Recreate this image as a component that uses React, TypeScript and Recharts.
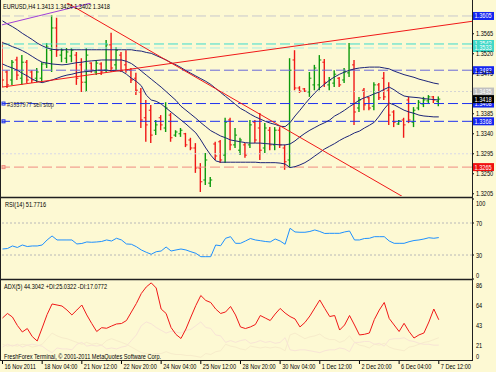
import React from "react";
import { ComposedChart, Bar, Line, XAxis, YAxis, ReferenceLine } from "recharts";

const BG = "#FDF9D3";
const FONT = "'Liberation Sans', Arial, sans-serif";

// EURUSD H4, 16 Nov 20:00 .. 7 Dec 12:00 (89 bars)
const highs = [
  1.3547, 1.3483, 1.3506, 1.3513, 1.3517, 1.3506, 1.3483, 1.3488, 1.3501, 1.3544,
  1.3607, 1.3601, 1.3533, 1.3533, 1.3533, 1.3524, 1.351, 1.3533, 1.3501, 1.3506,
  1.3501, 1.3551, 1.3567, 1.3535, 1.3524, 1.3528, 1.3488, 1.3477, 1.3443, 1.3416,
  1.3405, 1.3371, 1.3382, 1.3411, 1.3387, 1.3348, 1.3353, 1.3342, 1.3331, 1.3319,
  1.3274, 1.3297, 1.3243, 1.3322, 1.3326, 1.3376, 1.3376, 1.3353, 1.3331, 1.3319,
  1.3371, 1.3371, 1.3387, 1.3364, 1.3355, 1.3355, 1.3355, 1.3315, 1.351, 1.3528,
  1.3447, 1.3443, 1.3479, 1.3495, 1.3517, 1.3508, 1.3468, 1.3483, 1.3468, 1.3488,
  1.3544, 1.3506, 1.3423, 1.3443, 1.3423, 1.3456, 1.3454, 1.3479, 1.3456, 1.3393,
  1.3371, 1.3376, 1.3423, 1.34, 1.3416, 1.3423, 1.3427, 1.3425, 1.3424,
];
const lows = [
  1.3445, 1.3443, 1.345, 1.3461, 1.345, 1.3454, 1.3454, 1.3456, 1.3456, 1.3488,
  1.3479, 1.3513, 1.3501, 1.3499, 1.3501, 1.345, 1.3434, 1.3434, 1.3477, 1.3472,
  1.3472, 1.3479, 1.3479, 1.3483, 1.3479, 1.3477, 1.3454, 1.3427, 1.3353, 1.3322,
  1.3319, 1.3337, 1.3348, 1.3344, 1.3322, 1.3333, 1.3333, 1.331, 1.3303, 1.3252,
  1.3209, 1.3225, 1.322, 1.3281, 1.3274, 1.3274, 1.3303, 1.3308, 1.3292, 1.3286,
  1.3308, 1.3319, 1.3281, 1.3297, 1.3303, 1.3303, 1.3308, 1.3259, 1.3263, 1.3438,
  1.3432, 1.3434, 1.3423, 1.3438, 1.3438, 1.3445, 1.3438, 1.3445, 1.3445, 1.3454,
  1.3468, 1.336, 1.3389, 1.3393, 1.3393, 1.3393, 1.3416, 1.3416, 1.336, 1.3355,
  1.336, 1.3331, 1.3364, 1.3355, 1.3393, 1.34, 1.3409, 1.3409, 1.3402,
];
const opens = [
  1.3517, 1.3479, 1.3461, 1.3506, 1.3465, 1.3501, 1.3479, 1.3465, 1.3465, 1.3497,
  1.3528, 1.3578, 1.3517, 1.351, 1.3515, 1.3517, 1.3495, 1.3456, 1.3499, 1.3479,
  1.3497, 1.3483, 1.354, 1.3495, 1.3517, 1.3495, 1.3483, 1.3465, 1.3434, 1.3376,
  1.3393, 1.3348, 1.3376, 1.3353, 1.3382, 1.3337, 1.334, 1.334, 1.3326, 1.3308,
  1.3263, 1.3236, 1.3229, 1.3317, 1.3322, 1.3292, 1.3371, 1.3315, 1.3303, 1.3315,
  1.3315, 1.3366, 1.3353, 1.3308, 1.3348, 1.3315, 1.3348, 1.3308, 1.3281, 1.3506,
  1.3443, 1.3441, 1.3434, 1.345, 1.345, 1.3501, 1.345, 1.3454, 1.3465, 1.3461,
  1.3477, 1.3495, 1.3398, 1.3438, 1.3421, 1.3402, 1.345, 1.3465, 1.3438, 1.3389,
  1.3362, 1.3371, 1.3416, 1.3366, 1.3398, 1.3407, 1.3414, 1.3423, 1.3413,
];
const closes = [
  1.3461, 1.345, 1.3501, 1.3472, 1.3501, 1.3461, 1.3461, 1.3479, 1.3497, 1.3535,
  1.3578, 1.3528, 1.3528, 1.3524, 1.3528, 1.3465, 1.3456, 1.3517, 1.3483, 1.3499,
  1.3479, 1.354, 1.3488, 1.3528, 1.3483, 1.3483, 1.3461, 1.3438, 1.3371, 1.336,
  1.3337, 1.336, 1.336, 1.3398, 1.3331, 1.3344, 1.3348, 1.3315, 1.3308, 1.3263,
  1.3232, 1.3281, 1.3236, 1.329, 1.3281, 1.3366, 1.3315, 1.3337, 1.3326, 1.3292,
  1.336, 1.3326, 1.3303, 1.3353, 1.3315, 1.3348, 1.3315, 1.3277, 1.3483, 1.3443,
  1.3436, 1.3436, 1.3465, 1.3488, 1.3506, 1.3456, 1.3461, 1.3474, 1.345, 1.3479,
  1.3533, 1.3389, 1.3416, 1.3405, 1.3398, 1.345, 1.3421, 1.3423, 1.3382, 1.3366,
  1.3369, 1.336, 1.3371, 1.3393, 1.3411, 1.3416, 1.3423, 1.3416, 1.3418,
];

// Bollinger bands as drawn
const bbUpper = [
  1.3594, 1.3587, 1.3581, 1.3574, 1.3566, 1.3559, 1.3552, 1.3544, 1.3538, 1.3533,
  1.353, 1.3529, 1.3529, 1.3529, 1.3529, 1.3529, 1.3529, 1.3529, 1.3529, 1.3529,
  1.3529, 1.3529, 1.3529, 1.3529, 1.3529, 1.3529, 1.3529, 1.3527, 1.3526, 1.3523,
  1.3521, 1.3516, 1.3511, 1.3506, 1.35, 1.3495, 1.3489, 1.3482, 1.3476, 1.347,
  1.3464, 1.3458, 1.3451, 1.3442, 1.3433, 1.3424, 1.3415, 1.3406, 1.3397, 1.3391,
  1.3384, 1.3378, 1.3373, 1.3368, 1.3364, 1.3361, 1.3357, 1.3356, 1.3365, 1.338,
  1.3393, 1.3407, 1.342, 1.3432, 1.3443, 1.3452, 1.3461, 1.3468, 1.3474, 1.3479,
  1.3483, 1.3486, 1.3488, 1.3489, 1.349, 1.349, 1.349, 1.3488, 1.3486, 1.3481,
  1.3477, 1.3473, 1.347, 1.3467, 1.3463, 1.346, 1.3457, 1.3454, 1.3452,
];
const bbMid = [
  1.3545, 1.3541, 1.3536, 1.3532, 1.3527, 1.3521, 1.3514, 1.3507, 1.3501, 1.3499,
  1.3497, 1.3496, 1.3495, 1.3496, 1.3498, 1.35, 1.3501, 1.3503, 1.3504, 1.3505,
  1.3506, 1.3506, 1.3506, 1.3506, 1.3506, 1.3503, 1.3498, 1.349, 1.3481, 1.3472,
  1.3463, 1.3454, 1.3445, 1.3435, 1.3425, 1.3415, 1.3402, 1.3393, 1.3384, 1.3375,
  1.3365, 1.3356, 1.3347, 1.3341, 1.3335, 1.3331, 1.3326, 1.3324, 1.3322, 1.332,
  1.3319, 1.3319, 1.3319, 1.3318, 1.3317, 1.3316, 1.3315, 1.3315, 1.3317, 1.3324,
  1.3333, 1.3341, 1.3348, 1.3354, 1.336, 1.3365, 1.3371, 1.338, 1.3386, 1.3393,
  1.3401, 1.3408, 1.3416, 1.3421, 1.3425, 1.343, 1.3434, 1.344, 1.3445, 1.3439,
  1.3431, 1.3425, 1.3423, 1.3422, 1.3421, 1.3419, 1.3418, 1.3417, 1.3416,
];
const bbLower = [
  1.3497, 1.3492, 1.3488, 1.3483, 1.3476, 1.347, 1.3463, 1.3458, 1.3455, 1.3458,
  1.3461, 1.3465, 1.3469, 1.3472, 1.3474, 1.3477, 1.3479, 1.348, 1.3481, 1.3483,
  1.3483, 1.3483, 1.3482, 1.3482, 1.3481, 1.3474, 1.3465, 1.3458, 1.3448, 1.3427,
  1.3416, 1.3413, 1.3407, 1.3398, 1.3389, 1.338, 1.3371, 1.3362, 1.3352, 1.3342,
  1.3326, 1.3308, 1.3292, 1.3279, 1.3276, 1.3276, 1.3276, 1.3276, 1.3276, 1.3276,
  1.3276, 1.3276, 1.3275, 1.3275, 1.3275, 1.3275, 1.3274, 1.3272, 1.3264, 1.3266,
  1.327, 1.3275, 1.3282, 1.329, 1.3298, 1.3306, 1.3312, 1.3318, 1.3325, 1.3331,
  1.3336, 1.3342, 1.3346, 1.3353, 1.3359, 1.3366, 1.338, 1.3396, 1.3409, 1.3405,
  1.3399, 1.3393, 1.3389, 1.3386, 1.3382, 1.338, 1.3379, 1.3378, 1.3378,
];

const rsi = [
  37.5, 38.1, 41.3, 39.4, 42.5, 40.6, 41.3, 41.3, 42.5, 48.8,
  53.8, 48.8, 48.8, 48.8, 48.8, 43.8, 44.4, 46.3, 45.9, 46.3,
  46.9, 48.8, 47.5, 50.9, 48.8, 43.8, 43.4, 40.4, 36.3, 33.4,
  30.9, 34.1, 35, 40, 35, 36.3, 37.5, 36.3, 34.1, 32.1,
  27.9, 27.9, 27.9, 42.5, 41.6, 50.9, 52.9, 44.6, 44.6, 47.5,
  50.6, 48.8, 47.9, 46.9, 46.3, 50, 47.5, 43.4, 63.4, 58.8,
  58.4, 58.4, 59.4, 61.3, 59.4, 56.9, 57.1, 57.1, 57.1, 58.8,
  60, 48.8, 48.8, 50.6, 50.9, 52.9, 52.9, 52.9, 47.5, 44.6,
  44.6, 44.6, 46.6, 48.1, 48.8, 50, 51.6, 50.9, 51.7716,
];

const adx = [
  46.2, 51.1, 47.3, 38.2, 31.2, 34.9, 26.3, 21.5, 35.5, 50,
  61.3, 60.2, 59.1, 54.8, 49.5, 54.8, 60.2, 49.5, 40.3, 31.7,
  35.8, 35.2, 37.6, 39.8, 40.3, 43.5, 52.7, 61.8, 72.6, 79.6,
  84, 78.5, 55.9, 51.1, 36, 28.5, 24.2, 34.4, 47.3, 59.7,
  70.4, 65.1, 62.9, 55.9, 51.1, 52.7, 58.6, 49.5, 36.6, 34.9,
  36.6, 39.2, 48.9, 46.2, 43.5, 50.5, 56.5, 51.6, 47.8, 45.2,
  36.6, 41.4, 48.4, 57, 65.6, 56.5, 47.8, 48.9, 33.3, 38.7,
  48.9, 38.7, 28, 28.7, 30.1, 44.6, 54.8, 62.9, 45.7, 38.7,
  31.7, 40.5, 31.7, 24.7, 28, 30.1, 41.9, 55.9, 44.3042,
];
const plusDI = [
  18, 16, 17, 16, 18, 17, 15, 16, 18, 24,
  30, 27, 25, 24, 22, 20, 18, 20, 18, 19,
  17, 22, 24, 22, 20, 18, 15, 12, 9, 8,
  7, 8, 8, 10, 8, 7, 7, 6, 6, 5,
  4, 8, 7, 10, 11, 18, 16, 15, 13, 12,
  16, 15, 14, 15, 14, 15, 14, 11, 28, 30,
  27, 24, 26, 27, 29, 25, 23, 23, 20, 22,
  27, 20, 17, 16, 14, 18, 17, 19, 15, 13,
  12, 11, 15, 16, 18, 20, 21, 23, 25.0322,
];
const minusDI = [
  15, 18, 16, 18, 15, 17, 18, 17, 16, 12,
  9, 14, 13, 13, 12, 18, 20, 16, 17, 16,
  17, 13, 14, 13, 15, 16, 22, 28, 38, 42,
  40, 36, 33, 30, 32, 31, 30, 33, 34, 38,
  42, 36, 35, 28, 27, 20, 22, 20, 22, 23,
  19, 20, 22, 20, 21, 19, 20, 25, 12, 11,
  12, 12, 11, 10, 9, 11, 12, 12, 14, 13,
  10, 20, 20, 21, 21, 18, 19, 16, 23, 24,
  24, 25, 22, 21, 19, 18, 18, 17, 17.0772,
];

const timeTicks = [0, 8, 16, 24, 32, 40, 48, 56, 64, 72, 80, 88];
const timeLabels = [
  "16 Nov 2011", "18 Nov 04:00", "21 Nov 12:00", "22 Nov 20:00", "24 Nov 04:00", "25 Nov 12:00",
  "28 Nov 20:00", "30 Nov 04:00", "1 Dec 12:00", "2 Dec 20:00", "6 Dec 04:00", "7 Dec 12:00",
];
const priceTicks = [1.3205, 1.325, 1.3295, 1.334, 1.3385, 1.3475, 1.352, 1.3565];
const rsiTicks = [0, 30, 70, 100];
const rsiLevels = [30, 70];
const adxTicks = [0, 21, 43, 64, 86];

// horizontal objects / orders on the chart
const levelPrices = [1.3605, 1.3542, 1.3533, 1.3483, 1.3435, 1.3408, 1.3368, 1.3295, 1.3265];
const orderNote = "#3937977 sell stop";
// trend lines: [bar, price] endpoints
const redRise = [[-0.1, 1.3445], [94.7, 1.3593]];
const redFall = [[12, 1.3641], [80.8, 1.3198]];
const violet = [[-0.1, 1.3585], [17.8, 1.3634]];

const X_DOMAIN: [number, number] = [-0.1, 94.7];
const P_DOMAIN: [number, number] = [1.32, 1.36342];

const rows = highs.map((h, i) => ({
  i,
  range: [lows[i], h],
  high: h,
  low: lows[i],
  open: opens[i],
  close: closes[i],
  upper: bbUpper[i],
  mid: bbMid[i],
  lower: bbLower[i],
  rsi: rsi[i],
  adx: adx[i],
  pdi: plusDI[i],
  mdi: minusDI[i],
}));

const levelStyle = [
  { stroke: "#C8C8CC", dash: "10 4", tag: "#1426F0" },
  { stroke: "#3CDCCC", dash: "10 4", tag: "#40D8C8" },
  { stroke: "#A8EEE6", dash: "10 4", tag: "#40D8C8" },
  { stroke: "#6A6AD8", dash: "10 4", tag: "#1426F0" },
  { stroke: "#D4D4D4", dash: "2 2", tag: "#C0C0C0" },
  { stroke: "#1E32F0", dash: "10 4", tag: "#1426F0", marker: true, note: true },
  { stroke: "#1E32F0", dash: "10 4", tag: "#1426F0", marker: true },
  { stroke: "#D8D8E8", dash: "2 2" },
  { stroke: "#F08C80", dash: "10 4", tag: "#F01010", marker: true },
];

function SmallText({ x, y, children, fill = "#000", size = 7 }: any) {
  return (
    <text
      transform={`translate(${x},${y}) scale(0.8,1)`}
      fontSize={size}
      fontFamily={FONT}
      fill={fill}
    >
      {children}
    </text>
  );
}

function OhlcBar(props: any) {
  const { x, y, width, height, payload } = props;
  if (x == null || !payload) return null;
  const top = Math.min(y, y + height);
  const h = Math.abs(height);
  const span = payload.high - payload.low || 1;
  const at = (v: number) => top + ((payload.high - v) / span) * h;
  const cx = x + width / 2;
  const color = payload.close >= payload.open ? "#0C9A0C" : "#F01818";
  return (
    <g stroke={color}>
      <line x1={cx} x2={cx} y1={top} y2={top + h} strokeWidth={1.4} />
      <line x1={cx - 2} x2={cx} y1={at(payload.open)} y2={at(payload.open)} strokeWidth={1} />
      <line x1={cx} x2={cx + 2} y1={at(payload.close)} y2={at(payload.close)} strokeWidth={1} />
    </g>
  );
}

function PriceTick({ x, y, payload }: any) {
  return (
    <g>
      <line x1={x} x2={x + 2} y1={y} y2={y} stroke="#000" />
      <SmallText x={x + 4} y={y + 2.5}>{payload.value.toFixed(4)}</SmallText>
    </g>
  );
}

function Tag(props: any) {
  const { viewBox, fill, text, marker, note } = props;
  if (!viewBox) return null;
  const right = viewBox.x + viewBox.width;
  const y = viewBox.y;
  return (
    <g>
      {marker && <rect x={viewBox.x} y={y - 1.5} width={3} height={3} fill="none" stroke={marker} />}
      {note && <SmallText x={viewBox.x + 5} y={y + 3} fill="#303030">{note}</SmallText>}
      {fill && <rect x={right + 1} y={y - 4} width={21} height={8} fill={fill} />}
      {fill && <SmallText x={right + 2.5} y={y + 2.5} fill="#fff">{text}</SmallText>}
    </g>
  );
}

function RsiTick({ x, y, payload }: any) {
  const v = payload.value;
  const dy = v === 100 ? 4 : v === 0 ? -4 : 0;
  return (
    <g>
      <line x1={x} x2={x + 2} y1={y} y2={y} stroke="#000" />
      <SmallText x={x + 4} y={y + 2.5 + dy}>{v}</SmallText>
    </g>
  );
}

function AdxTick({ x, y, payload }: any) {
  const v = payload.value;
  const dy = v === 0 ? -5 : 4;
  return <SmallText x={x + 4} y={y + 2.5 + dy}>{v}</SmallText>;
}

function TimeTick({ x, payload }: any) {
  const k = timeTicks.indexOf(payload.value);
  return (
    <g>
      <line x1={x} x2={x} y1={81} y2={84} stroke="#000" />
      <SmallText x={x + 2} y={89}>{timeLabels[k]}</SmallText>
    </g>
  );
}

const seg = (pts: number[][]) => pts.map(([x, y]) => ({ x, y }));

export default function App() {
  const last = closes[closes.length - 1];
  return (
    <div style={{ position: "relative", width: 496, height: 372, background: BG, overflow: "hidden" }}>
      <style>{`body{margin:0;background:${BG}}`}</style>

      <div style={{ position: "absolute", left: 0, top: 0 }}>
        <ComposedChart width={496} height={197} data={rows} margin={{ top: 3, right: 0, bottom: 1, left: 2 }}>
          <XAxis type="number" dataKey="i" domain={X_DOMAIN} allowDataOverflow hide />
          <YAxis
            orientation="right"
            width={24}
            domain={P_DOMAIN}
            allowDataOverflow
            ticks={priceTicks}
            interval={0}
            tickSize={0}
            tickMargin={0}
            axisLine={false}
            tickLine={false}
            tick={<PriceTick />}
          />
          {levelPrices.map((p, k) => {
            const s = levelStyle[k];
            return (
              <ReferenceLine
                key={k}
                y={p}
                stroke={s.stroke}
                strokeDasharray={s.dash}
                label={
                  <Tag
                    fill={s.tag}
                    text={p.toFixed(4)}
                    marker={s.marker ? s.stroke : undefined}
                    note={s.note ? orderNote : undefined}
                  />
                }
              />
            );
          })}
          <ReferenceLine y={last} stroke="none" label={<Tag fill="#000" text={last.toFixed(4)} />} />
          <Bar dataKey="range" barSize={4} shape={<OhlcBar />} isAnimationActive={false} />
          <Line dataKey="upper" stroke="#1C2478" strokeWidth={1} dot={false} isAnimationActive={false} />
          <Line dataKey="mid" stroke="#1C2478" strokeWidth={1} dot={false} isAnimationActive={false} />
          <Line dataKey="lower" stroke="#1C2478" strokeWidth={1} dot={false} isAnimationActive={false} />
          <ReferenceLine segment={seg(redRise)} stroke="#F01818" ifOverflow="hidden" />
          <ReferenceLine segment={seg(redFall)} stroke="#F01818" ifOverflow="hidden" />
          <ReferenceLine segment={seg(violet)} stroke="#A040D8" ifOverflow="hidden" />
        </ComposedChart>
      </div>

      <div style={{ position: "absolute", left: 0, top: 198 }}>
        <ComposedChart width={496} height={82} data={rows} margin={{ top: 1, right: 0, bottom: 1, left: 2 }}>
          <XAxis type="number" dataKey="i" domain={X_DOMAIN} allowDataOverflow hide />
          <YAxis
            orientation="right"
            width={24}
            domain={[0, 100]}
            ticks={rsiTicks}
            interval={0}
            tickSize={0}
            tickMargin={0}
            axisLine={false}
            tickLine={false}
            tick={<RsiTick />}
          />
          {rsiLevels.map((v) => (
            <ReferenceLine key={v} y={v} stroke="#B8B8B8" strokeDasharray="2 2" />
          ))}
          <Line dataKey="rsi" stroke="#1E90FF" strokeWidth={1} dot={false} isAnimationActive={false} />
        </ComposedChart>
      </div>

      <div style={{ position: "absolute", left: 0, top: 280 }}>
        <ComposedChart width={496} height={92} data={rows} margin={{ top: 1, right: 0, bottom: 0, left: 2 }}>
          <XAxis
            type="number"
            dataKey="i"
            domain={X_DOMAIN}
            allowDataOverflow
            ticks={timeTicks}
            interval={0}
            height={11}
            axisLine={false}
            tickLine={false}
            tick={<TimeTick />}
          />
          <YAxis
            orientation="right"
            width={24}
            domain={[0, 86]}
            allowDataOverflow
            ticks={adxTicks}
            interval={0}
            tickSize={0}
            tickMargin={0}
            axisLine={false}
            tickLine={false}
            tick={<AdxTick />}
          />
          <Line dataKey="pdi" stroke="#F7ECCB" strokeWidth={1} dot={false} isAnimationActive={false} />
          <Line dataKey="mdi" stroke="#F8E4D6" strokeWidth={1} dot={false} isAnimationActive={false} />
          <Line dataKey="adx" stroke="#F01818" strokeWidth={1} dot={false} isAnimationActive={false} />
        </ComposedChart>
      </div>

      <svg width={496} height={372} style={{ position: "absolute", left: 0, top: 0, pointerEvents: "none" }}>
        <line x1={0.5} x2={0.5} y1={0} y2={361} stroke="#202020" />
        <line x1={472.5} x2={472.5} y1={0} y2={361} stroke="#202020" />
        <line x1={0} x2={472} y1={197.5} y2={197.5} stroke="#202020" strokeWidth={1.5} />
        <line x1={0} x2={472} y1={279.5} y2={279.5} stroke="#202020" strokeWidth={1.5} />
        <line x1={0} x2={472} y1={360.5} y2={360.5} stroke="#202020" />
        <SmallText x={3} y={9}>EURUSD,H4  1.3413 1.3424 1.3402 1.3418</SmallText>
        <SmallText x={5} y={206.5}>RSI(14) 51.7716</SmallText>
        <SmallText x={4} y={288.5}>ADX(5) 44.3042 +DI:25.0322 -DI:17.0772</SmallText>
        <SmallText x={4} y={358.5}>FreshForex Terminal, © 2001-2011 MetaQuotes Software Corp.</SmallText>
      </svg>
    </div>
  );
}
